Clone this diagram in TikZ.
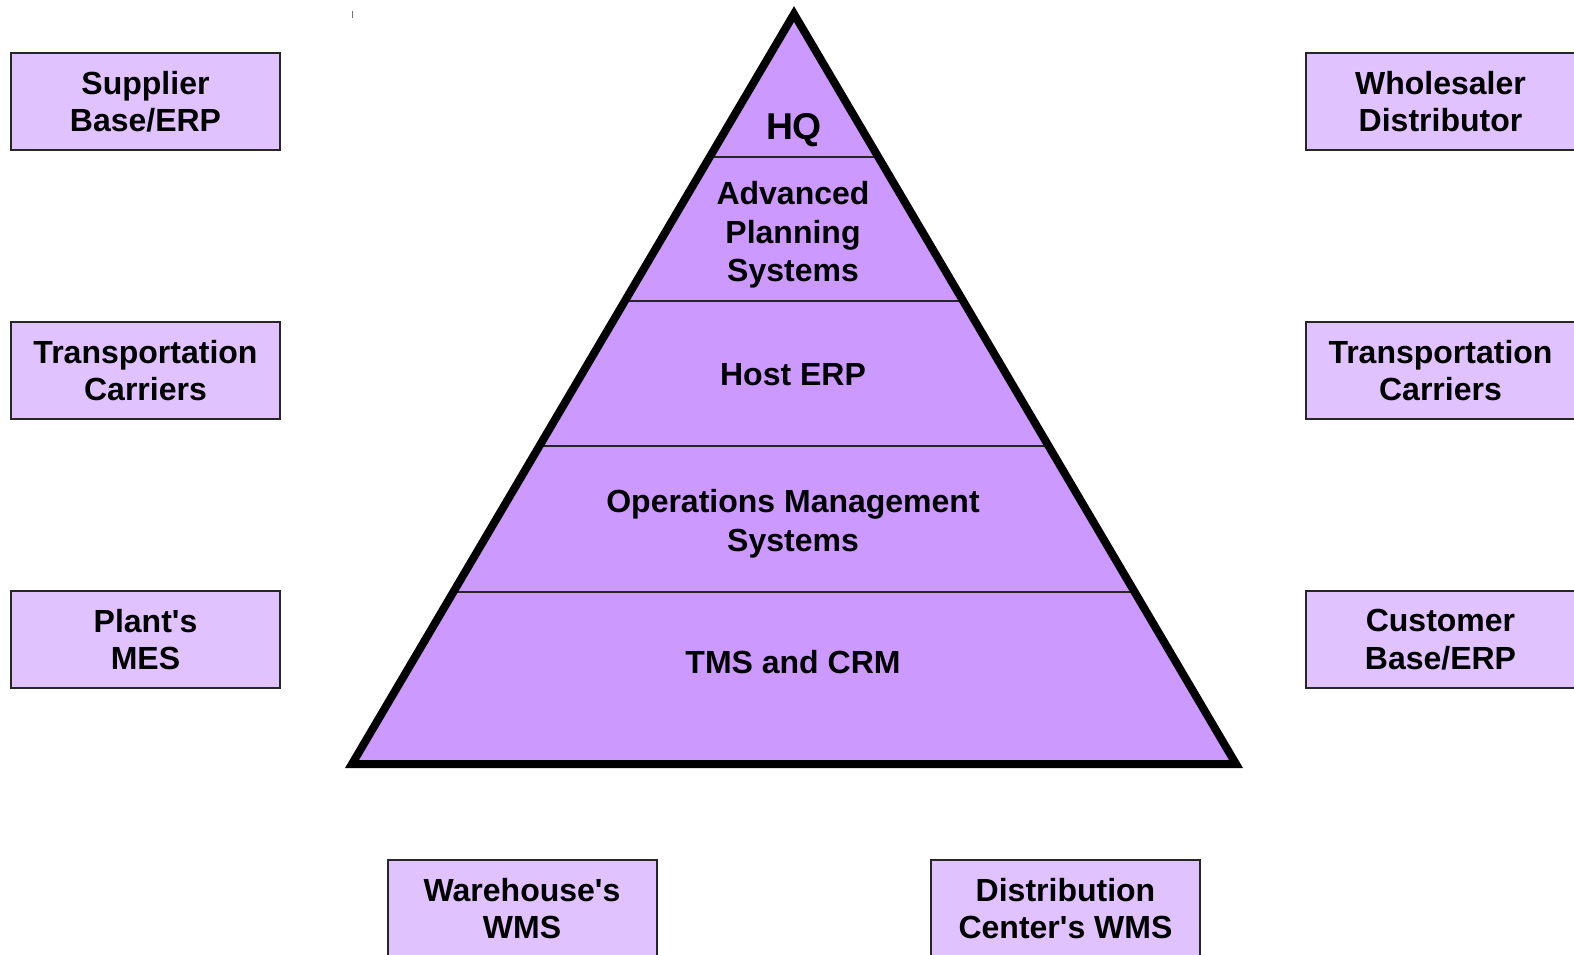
\documentclass[tikz,border=0pt]{standalone}
\usepackage{fontspec}
\setmainfont{Liberation Sans}[Ligatures=TeXOff]
\definecolor{pyramidfill}{RGB}{204,153,255}
\definecolor{boxfill}{RGB}{224,194,255}
\tikzset{
  sysbox/.style={draw=black!85, line width=1.5pt, fill=boxfill, minimum width=201.75pt, minimum height=72.75pt, inner sep=0pt, align=center, font=\fontsize{24}{28}\selectfont\bfseries},
  layertext/.style={align=center, inner sep=0pt, font=\fontsize{24}{29}\selectfont\bfseries}
}
\begin{document}
\begin{tikzpicture}[x=0.75pt,y=0.75pt,yscale=-1,xscale=1]
            \clip (0,0) rectangle (1574,954);

            %Shape: Triangle
            \fill [pyramidfill] (794,14) -- (1236,764) -- (352,764) -- cycle ;
            %Straight Lines (layers)
            \begin{scope}
              \clip (794,14) -- (1236,764) -- (352,764) -- cycle ;
              \foreach \ly in {157,301,446,592}
                \draw [color=black!85, line width=1.5pt] (330,\ly) -- (1260,\ly) ;
            \end{scope}
            \draw [line width=6pt, line join=miter] (794,14) -- (1236,764) -- (352,764) -- cycle ;
            %Straight Lines [small tick]
            \draw [color=black!55, line width=1pt] (352.5,11) -- (352.5,18) ;

            % Text Node
            \node [layertext, font=\fontsize{28}{32}\selectfont\bfseries] (hq) at (794,130) {HQ};
            % Text Node
            \node [layertext] (aps) at (793,235) {Advanced\\Planning\\Systems};
            % Text Node
            \node [layertext] (hosterp) at (793,374.5) {Host ERP};
            % Text Node
            \node [layertext] (oms) at (793,523.5) {Operations Management\\Systems};
            % Text Node
            \node [layertext] (tms) at (793,662.5) {TMS and CRM};

            % Left boxes
            \node [sysbox] (supplier) at (145.5,101.5) {Supplier\\Base/ERP};
            \node [sysbox] (carrierL) at (145.5,370.5) {Transportation\\Carriers};
            \node [sysbox] (plant) at (145.5,639.5) {Plant's\\MES};
            % Right boxes
            \node [sysbox] (wholesaler) at (1440.5,101.5) {Wholesaler\\Distributor};
            \node [sysbox] (carrierR) at (1440.5,370.5) {Transportation\\Carriers};
            \node [sysbox] (customer) at (1440.5,639.5) {Customer\\Base/ERP};
            % Bottom boxes
            \node [sysbox] (warehouse) at (522,908.5) {Warehouse's\\WMS};
            \node [sysbox] (distcenter) at (1065.5,908.5) {Distribution\\Center's WMS};

\end{tikzpicture}
\end{document}
